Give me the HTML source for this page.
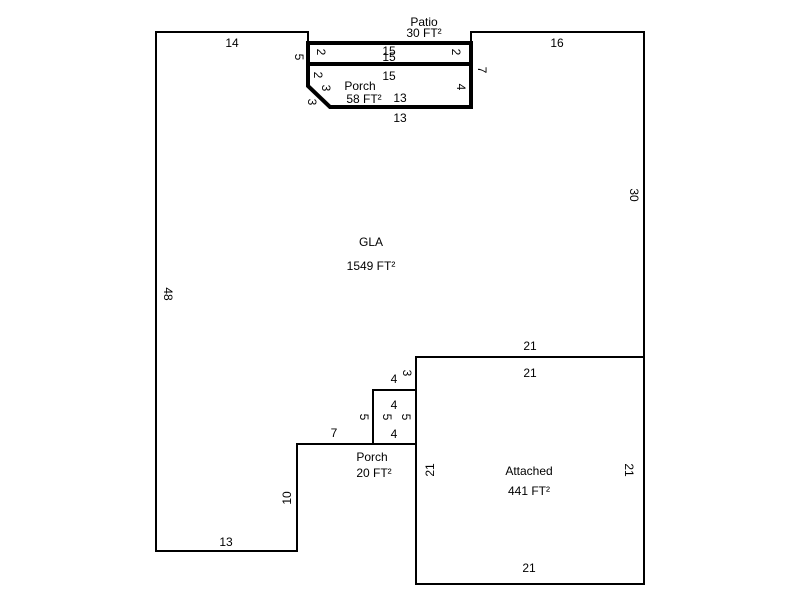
<!DOCTYPE html>
<html><head><meta charset="utf-8"><style>body{margin:0;background:#fff}svg{display:block}text{font-family:"Liberation Sans",Arial,sans-serif;font-size:12px;fill:#000}</style></head><body>
<svg width="800" height="600" viewBox="0 0 800 600">
<g fill="none" stroke="#000" stroke-width="2">
<polyline points="308,43 308,32 156,32 156,551 297,551 297,444 416,444 416,357 644,357 644,32 471,32 471,43"/>
<rect x="416" y="357" width="228" height="227"/>
<rect x="373" y="390" width="43" height="54"/>
</g>
<g fill="none" stroke="#000" stroke-width="4">
<rect x="308" y="43" width="163" height="21"/>
<polygon points="308,64 471,64 471,107 330,107 308,86"/>
</g>
<g text-anchor="middle">
<text x="424" y="26">Patio</text><text x="424" y="37">30 FT²</text>
<text x="232" y="47">14</text><text x="557" y="47">16</text>
<text x="389" y="55">15</text><text x="389" y="61">15</text>
<text x="389" y="80">15</text>
<text x="360" y="90">Porch</text><text x="364" y="103">58 FT²</text><text x="400" y="102">13</text>
<text x="400" y="122">13</text>
<text x="371" y="246">GLA</text><text x="371" y="270">1549 FT²</text>
<text x="530" y="350">21</text><text x="530" y="377">21</text>
<text x="394" y="383">4</text><text x="394" y="409">4</text><text x="394" y="438">4</text>
<text x="334" y="437">7</text>
<text x="372" y="461">Porch</text><text x="374" y="477">20 FT²</text>
<text x="529" y="475">Attached</text><text x="529" y="495">441 FT²</text>
<text x="226" y="546">13</text><text x="529" y="572">21</text>
</g>
<g text-anchor="middle">
<text transform="translate(295,57) rotate(90)">5</text>
<text transform="translate(317,52) rotate(90)">2</text>
<text transform="translate(452,52) rotate(90)">2</text>
<text transform="translate(478,70) rotate(90)">7</text>
<text transform="translate(314,75) rotate(90)">2</text>
<text transform="translate(322,88) rotate(90)">3</text>
<text transform="translate(308,102) rotate(90)">3</text>
<text transform="translate(457,87) rotate(90)">4</text>
<text transform="translate(630,195) rotate(90)">30</text>
<text transform="translate(164,294) rotate(90)">48</text>
<text transform="translate(403,373) rotate(90)">3</text>
<text transform="translate(360,417) rotate(90)">5</text>
<text transform="translate(383,417) rotate(90)">5</text>
<text transform="translate(402,417) rotate(90)">5</text>
<text transform="translate(625,470) rotate(90)">21</text>
<text transform="translate(434,470) rotate(-90)">21</text>
<text transform="translate(291,498) rotate(-90)">10</text>
</g>
</svg>
</body></html>
